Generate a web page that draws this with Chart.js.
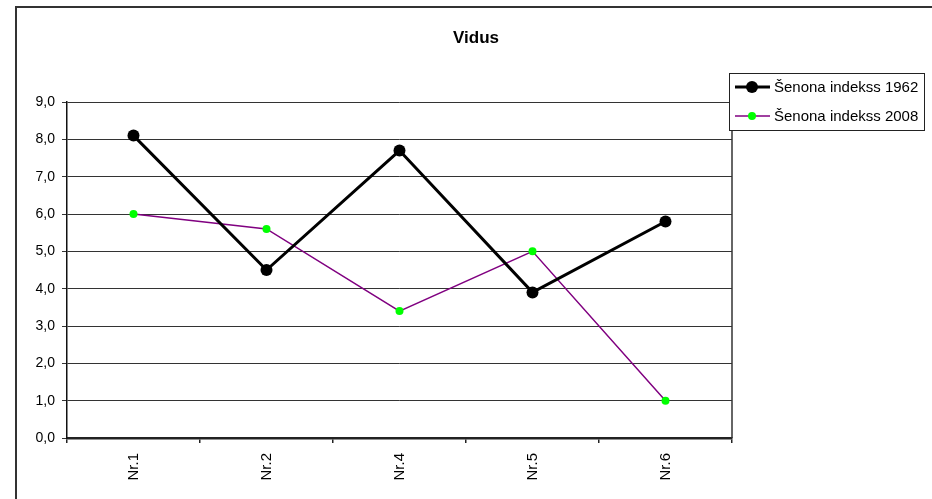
<!DOCTYPE html>
<html>
<head>
<meta charset="utf-8">
<script src="https://cdn.jsdelivr.net/npm/chart.js@4/dist/chart.umd.min.js"></script>
<style>
  html, body { margin: 0; padding: 0; background: #fff; }
  #wrap { width: 932px; height: 499px; }
</style>
</head>
<body>
<div id="wrap"><canvas id="c"></canvas></div>
<script>
// dati
const titleText = 'Vidus';
const categories = ['Nr.1', 'Nr.2', 'Nr.4', 'Nr.5', 'Nr.6'];
const series1962 = [8.1, 4.5, 7.7, 3.9, 5.8];
const series2008 = [6.0, 5.6, 3.4, 5.0, 1.0];
const seriesNames = ['Šenona indekss 1962', 'Šenona indekss 2008'];

const FONT = 'Arial, "Liberation Sans", sans-serif';

// cornice esterna, titolo e legenda disegnati a mano
const decor = {
    id: 'decor',
    beforeDraw(chart) {
        const ctx = chart.ctx;
        ctx.save();
        ctx.fillStyle = '#fff';
        ctx.fillRect(0, 0, chart.width, chart.height);
        ctx.strokeStyle = '#333';
        ctx.lineWidth = 2;
        ctx.beginPath();
        ctx.moveTo(16, chart.height + 5);
        ctx.lineTo(16, 7);
        ctx.lineTo(chart.width + 5, 7);
        ctx.stroke();
        ctx.restore();
    },
    beforeDatasetsDraw(chart) {
        // bordo destro dell'area del grafico
        const a = chart.chartArea;
        const ctx = chart.ctx;
        ctx.save();
        ctx.strokeStyle = '#333';
        ctx.lineWidth = 1.5;
        ctx.beginPath();
        ctx.moveTo(a.right, a.top);
        ctx.lineTo(a.right, a.bottom);
        ctx.stroke();
        ctx.restore();
    },
    afterDraw(chart) {
        const ctx = chart.ctx;
        ctx.save();
        // titolo
        ctx.fillStyle = '#000';
        ctx.font = 'bold 17px ' + FONT;
        ctx.textAlign = 'center';
        ctx.textBaseline = 'middle';
        ctx.fillText(titleText, 476, 38);

        // legenda
        const bx = 729.5, by = 73.5, bw = 195, bh = 57;
        ctx.fillStyle = '#fff';
        ctx.fillRect(bx, by, bw, bh);
        ctx.strokeStyle = '#222';
        ctx.lineWidth = 1;
        ctx.strokeRect(bx, by, bw, bh);
        ctx.font = '15px ' + FONT;
        ctx.textAlign = 'left';
        chart.data.datasets.forEach((ds, i) => {
            const y = 87 + i * 29;
            ctx.strokeStyle = ds.borderColor;
            ctx.lineWidth = ds.borderWidth;
            ctx.beginPath();
            ctx.moveTo(735, y);
            ctx.lineTo(770, y);
            ctx.stroke();
            ctx.fillStyle = ds.pointBackgroundColor;
            ctx.beginPath();
            ctx.arc(752, y, ds.pointRadius, 0, Math.PI * 2);
            ctx.fill();
            ctx.fillStyle = '#000';
            ctx.fillText(ds.label, 774, y + 1);
        });
        ctx.restore();
    }
};

new Chart(document.getElementById('c'), {
    type: 'line',
    data: {
        labels: categories,
        datasets: [{
            label: seriesNames[0],
            data: series1962,
            borderColor: '#000',
            borderWidth: 3,
            pointRadius: 6,
            pointBackgroundColor: '#000',
            pointBorderWidth: 0,
            tension: 0
        }, {
            label: seriesNames[1],
            data: series2008,
            borderColor: '#800080',
            borderWidth: 1.5,
            pointRadius: 4,
            pointBackgroundColor: '#00ff00',
            pointBorderWidth: 0,
            tension: 0
        }]
    },
    options: {
        responsive: true,
        maintainAspectRatio: false,
        animation: false,
        layout: { padding: { top: 102, right: 200, left: 0, bottom: 0 } },
        plugins: {
            legend: { display: false },
            title: { display: false },
            tooltip: { enabled: false }
        },
        scales: {
            x: {
                offset: true,
                afterFit(scale) { scale.height = 61; },
                grid: {
                    offset: true,
                    drawOnChartArea: false,
                    tickColor: '#222',
                    tickLength: 5,
                    lineWidth: 1.5
                },
                border: { color: '#222', width: 2.5 },
                ticks: {
                    color: '#000',
                    font: { family: FONT, size: 15 },
                    minRotation: 90,
                    maxRotation: 90,
                    padding: 10
                }
            },
            y: {
                min: 0,
                max: 9,
                afterFit(scale) { scale.width = 67; },
                grid: {
                    color: '#333',
                    tickColor: '#333',
                    tickLength: 5,
                    lineWidth: 1
                },
                border: { color: '#111', width: 1.5 },
                ticks: {
                    stepSize: 1,
                    color: '#000',
                    font: { family: FONT, size: 14 },
                    padding: 7,
                    callback: v => v.toFixed(1).replace('.', ',')
                }
            }
        }
    },
    plugins: [decor]
});
</script>
</body>
</html>
